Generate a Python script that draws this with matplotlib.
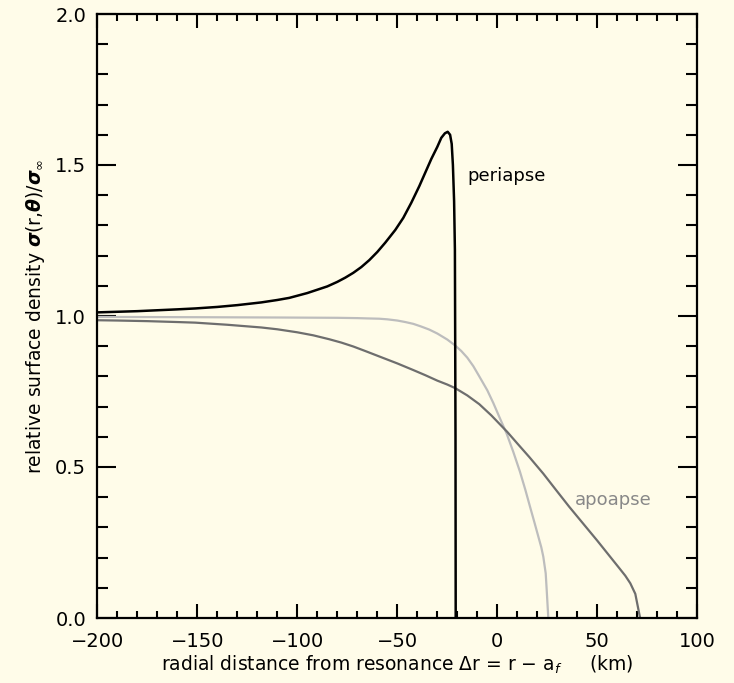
import matplotlib
matplotlib.use("Agg")
import matplotlib.pyplot as plt
from matplotlib.ticker import MultipleLocator

# surface density profiles, sigma / sigma_inf vs radial distance (km)
peri_x = [-200, -190, -180, -170, -160, -151, -140, -130, -118, -110, -104, -95, -90,
          -85, -80, -76, -72, -68, -64, -60, -56, -51, -47, -43, -39, -35, -33, -30, -28,
          -26.2, -24.8, -23.6, -22.8, -22.2, -21.6, -21.2, -20.9, -20.8]
peri_y = [1.012, 1.014, 1.016, 1.019, 1.022, 1.025, 1.030, 1.036, 1.045, 1.053, 1.060,
          1.076, 1.087, 1.098, 1.113, 1.127, 1.143, 1.162, 1.185, 1.212, 1.243, 1.285,
          1.325, 1.375, 1.43, 1.49, 1.52, 1.56, 1.59, 1.605, 1.61, 1.60, 1.57, 1.50,
          1.38, 1.22, 0.6, 0.0]

mid_x = [-200, -150, -109, -80, -70, -65, -59, -55, -50, -46, -42, -38, -34, -30,
         -25, -21, -18, -15, -12, -9, -5, -2, 1, 4.7, 8, 11.3, 14, 16.3, 18.5,
         20.5, 22, 23, 24.2, 24.7, 25.5]
mid_y = [0.997, 0.996, 0.995, 0.994, 0.993, 0.992, 0.991, 0.989, 0.985, 0.980, 0.974,
         0.965, 0.955, 0.942, 0.922, 0.902, 0.884, 0.862, 0.834, 0.800, 0.754, 0.712,
         0.666, 0.61, 0.55, 0.485, 0.425, 0.370, 0.318, 0.270, 0.234, 0.203, 0.148,
         0.093, 0.0]

apo_x = [-200, -190, -175, -160, -151, -135, -118, -110, -100, -92, -84, -78, -72,
         -66, -59, -50, -42, -36, -30, -25, -21, -15, -9, -3, 5, 10, 16, 23, 29, 36, 50,
         61, 64, 66.5, 69, 70.5, 71.4]
apo_y = [0.986, 0.985, 0.983, 0.980, 0.978, 0.971, 0.962, 0.956, 0.946, 0.936, 0.923,
         0.912, 0.899, 0.884, 0.866, 0.843, 0.821, 0.804, 0.786, 0.773, 0.761, 0.737,
         0.708, 0.671, 0.616, 0.578, 0.533, 0.478, 0.427, 0.368, 0.256, 0.165, 0.14,
         0.115, 0.08, 0.03, 0.0]

bg = "#fffce9"
plt.rcParams['font.family'] = ['DejaVu Sans']
plt.rcParams['mathtext.fontset'] = 'dejavusans'

fig = plt.figure(figsize=(7.34, 6.83), dpi=100, facecolor=bg)
ax = fig.add_axes([97.3 / 734, 65 / 683, 600 / 734, 604 / 683], facecolor=bg)

ax.plot(mid_x, mid_y, color="#bdbdbd", lw=1.6)
ax.plot(apo_x, apo_y, color="#6e6e6e", lw=1.6)
ax.plot(peri_x, peri_y, color="black", lw=1.8)

ax.text(-15, 1.465, "periapse", fontsize=13, color="black", va="center")
ax.text(39, 0.39, "apoapse", fontsize=13, color="#888888", va="center")

ax.set_xlim(-200, 100)
ax.set_ylim(0, 2)
ax.xaxis.set_major_locator(MultipleLocator(50))
ax.xaxis.set_minor_locator(MultipleLocator(10))
ax.yaxis.set_major_locator(MultipleLocator(0.5))
ax.yaxis.set_minor_locator(MultipleLocator(0.1))
ax.yaxis.set_major_formatter(matplotlib.ticker.FormatStrFormatter('%.1f'))

ax.tick_params(which="both", direction="in", top=True, right=True, width=1.5,
               labelsize=14, colors="black")
ax.tick_params(axis="x", which="major", length=10, pad=10)
ax.tick_params(axis="x", which="minor", length=5)
ax.tick_params(axis="y", which="major", length=14, pad=8)
ax.tick_params(axis="y", which="minor", length=8)
for s in ax.spines.values():
    s.set_linewidth(1.6)

ax.set_xlabel(r"radial distance from resonance $\Delta$r = r $-$ a$_{f}$     (km)",
              fontsize=13.5, labelpad=2)
ax.set_ylabel(r"relative surface density $\boldsymbol{\sigma}$(r,$\boldsymbol{\theta}$)/$\boldsymbol{\sigma}_{\infty}$",
              fontsize=13.5, labelpad=6)

fig.savefig("out.png", dpi=100, facecolor=bg)
